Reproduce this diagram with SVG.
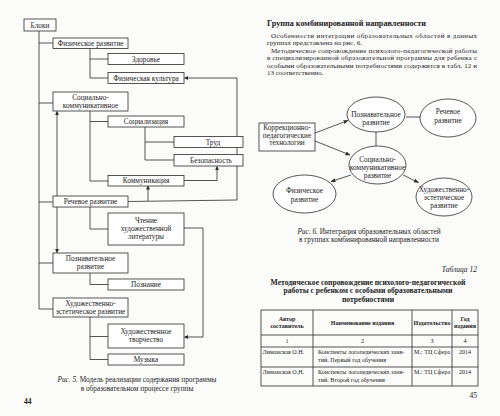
<svg xmlns="http://www.w3.org/2000/svg" width="500" height="416" viewBox="0 0 500 416">
<defs>
<style>
.bx{fill:#fff;stroke:#2b2b2b;stroke-width:0.8}
.ln{fill:none;stroke:#2b2b2b;stroke-width:0.8}
.el{fill:#fff;stroke:#2b2b2b;stroke-width:0.8}
text{font-family:"Liberation Serif","DejaVu Serif",serif;fill:#222}
.t{font-size:7.3px;text-anchor:middle}
.b{font-size:7px}
.tb{font-size:6.1px}
.th{font-size:6px;font-weight:bold;text-anchor:middle}
</style>
<marker id="ah" viewBox="0 0 10 10" refX="9" refY="5" markerWidth="4" markerHeight="4" orient="auto" markerUnits="userSpaceOnUse"><path d="M0,0 L10,5 L0,10 z" fill="#2b2b2b"/></marker>
<marker id="ah2" viewBox="0 0 10 10" refX="9" refY="5" markerWidth="5" markerHeight="5" orient="auto" markerUnits="userSpaceOnUse"><path d="M0,1 L10,5 L0,9 z" fill="#2b2b2b"/></marker>
</defs>
<rect x="0" y="0" width="500" height="416" fill="#fbfbfa"/>

<!-- LEFT PAGE: Fig 5 connectors -->
<g id="connectors5">
<path class="ln" d="M39,31 V309"/>
<path class="ln" d="M39,43 H53 M39,103 H53 M39,202 H53 M39,263 H53 M39,309 H53"/>
<path class="ln" d="M90,48.5 V78 M90,59 H108 M90,78 H108"/>
<path class="ln" d="M90,111 V181 M90,121.5 H108 M90,181 H108"/>
<path class="ln" d="M145,127 V160 M145,142 H174 M145,160 H174"/>
<path class="ln" d="M184,180.5 H217 V166.5" marker-end="url(#ah)"/>
<path class="ln" d="M128,201.5 L237,200 V78 H184.5" marker-end="url(#ah)"/>
<path class="ln" d="M148,201 V186" marker-end="url(#ah)"/>
<path class="ln" d="M57,182 V111.5" marker-end="url(#ah)"/>
<path class="ln" d="M57,182 V252.5" marker-end="url(#ah)"/>
<path class="ln" d="M90,207 V229 H108"/>
<path class="ln" d="M184,228 H203 V337 H184.5" marker-end="url(#ah)"/>
<path class="ln" d="M90,273 V284.5 H108"/>
<path class="ln" d="M90,317 V359.5 H108 M90,336.5 H108"/>
</g>

<g id="n-bloki"><rect class="bx" x="24" y="19" width="32" height="12"/><text class="t" x="40" y="27.6">Блоки</text></g>
<g id="n-fiz"><rect class="bx" x="53" y="38" width="75" height="10.5"/><text class="t" x="90.5" y="45.8">Физическое развитие</text></g>
<g id="n-zdorovie"><rect class="bx" x="108" y="53.5" width="76" height="11"/><text class="t" x="146" y="61.5">Здоровье</text></g>
<g id="n-fizkult"><rect class="bx" x="108" y="72.5" width="76" height="11"/><text class="t" x="146" y="80.5">Физическая культура</text></g>
<g id="n-soc"><rect class="bx" x="53" y="92" width="75" height="19"/><text class="t" x="90.5" y="99.8">Социально-</text><text class="t" x="90.5" y="107.8">коммуникативное</text></g>
<g id="n-socializ"><rect class="bx" x="108" y="116" width="76" height="11"/><text class="t" x="146" y="124">Социализация</text></g>
<g id="n-trud"><rect class="bx" x="174" y="136.5" width="69" height="11"/><text class="t" x="213" y="144.5">Труд</text></g>
<g id="n-bezop"><rect class="bx" x="174" y="154.5" width="69" height="11.5"/><text class="t" x="211" y="162.8">Безопасность</text></g>
<g id="n-komm"><rect class="bx" x="108" y="175.5" width="76" height="10.5"/><text class="t" x="146" y="183.3">Коммуникация</text></g>
<g id="n-rech"><rect class="bx" x="53" y="196" width="75" height="11"/><text class="t" x="90.5" y="204">Речевое развитие</text></g>
<g id="n-chtenie"><rect class="bx" x="108" y="213" width="76" height="32"/><text class="t" x="146" y="222.5">Чтение</text><text class="t" x="146" y="230.5">художественной</text><text class="t" x="146" y="238.5">литературы</text></g>
<g id="n-pozn"><rect class="bx" x="53" y="253" width="75" height="20"/><text class="t" x="90.5" y="261">Познавательное</text><text class="t" x="90.5" y="269">развитие</text></g>
<g id="n-poznanie"><rect class="bx" x="108" y="279" width="76" height="11"/><text class="t" x="146" y="287">Познание</text></g>
<g id="n-hud"><rect class="bx" x="53" y="298" width="75" height="19"/><text class="t" x="90.5" y="305.8">Художественно-</text><text class="t" x="90.5" y="313.8">эстетическое развитие</text></g>
<g id="n-tvorch"><rect class="bx" x="108" y="324" width="76" height="24"/><text class="t" x="146" y="334">Художественное</text><text class="t" x="146" y="342">творчество</text></g>
<g id="n-muz"><rect class="bx" x="108" y="354" width="76" height="11"/><text class="t" x="146" y="362">Музыка</text></g>

<text class="t" x="137" y="382"><tspan font-style="italic">Рис. 5.</tspan> Модель реализации содержания программы</text>
<text class="t" x="137" y="390.5">в образовательном процессе группы</text>
<text x="24" y="404" font-size="7.5" font-weight="bold">44</text>

<!-- RIGHT PAGE -->
<text x="267" y="25.5" font-size="8.2" font-weight="bold">Группа комбинированной направленности</text>
<text class="b" x="271" y="37.5" textLength="206" lengthAdjust="spacing">Особенности интеграции образовательных областей в данных</text>
<text class="b" x="267" y="45">группах представлена на рис. 6.</text>
<text class="b" x="271" y="52.5" textLength="206" lengthAdjust="spacing">Методическое сопровождение психолого-педагогической работы</text>
<text class="b" x="267" y="60" textLength="210" lengthAdjust="spacing">в специализированной образовательной программы для ребенка с</text>
<text class="b" x="267" y="67.5" textLength="210" lengthAdjust="spacing">особыми образовательными потребностями содержится в табл. 12 и</text>
<text class="b" x="267" y="75">13 соответственно.</text>

<g id="connectors6">
<path class="ln" d="M406,117 H420"/>
<path class="ln" d="M376,131.5 V146.5"/>
<path class="ln" d="M315,133 L348,120.5" marker-end="url(#ah2)"/>
<path class="ln" d="M315,141 L350,155" marker-end="url(#ah2)"/>
<path class="ln" d="M351,175 L331,181.5" marker-end="url(#ah2)"/>
<path class="ln" d="M403,175 L418.5,182.5" marker-end="url(#ah2)"/>
</g>
<g id="e-pozn"><ellipse class="el" cx="376" cy="114.5" rx="29" ry="17.5"/><text class="t" x="376" y="117">Познавательное</text><text class="t" x="376" y="125">развитие</text></g>
<g id="e-rech"><ellipse class="el" cx="448" cy="118" rx="28" ry="19"/><text class="t" x="448" y="114">Речевое</text><text class="t" x="448" y="122.5">развитие</text></g>
<g id="n-korr"><rect class="bx" x="259" y="123" width="56" height="28"/><text class="t" x="287" y="130">Коррекционно-</text><text class="t" x="287" y="137.5">педагогические</text><text class="t" x="287" y="145">технологии</text></g>
<g id="e-soc"><ellipse class="el" cx="377.5" cy="165" rx="28.5" ry="19"/><text class="t" x="377.5" y="162">Социально-</text><text class="t" x="377.5" y="170">коммуникативное</text><text class="t" x="377.5" y="178">развитие</text></g>
<g id="e-fiz"><ellipse class="el" cx="304.5" cy="194" rx="31.5" ry="19"/><text class="t" x="304.5" y="192.5">Физическое</text><text class="t" x="304.5" y="201.5">развитие</text></g>
<g id="e-hud"><ellipse class="el" cx="444" cy="197" rx="28" ry="19"/><text class="t" x="444" y="192">Художественно-</text><text class="t" x="444" y="200">эстетическое</text><text class="t" x="444" y="208">развитие</text></g>

<text class="t" x="369" y="234"><tspan font-style="italic">Рис. 6.</tspan> Интеграция образовательных областей</text>
<text class="t" x="369" y="242">в группах комбинированной направленности</text>

<text x="477" y="272" font-size="7.5" font-style="italic" text-anchor="end">Таблица 12</text>
<text x="368" y="285" font-size="7.6" font-weight="bold" text-anchor="middle">Методическое сопровождение психолого-педагогической</text>
<text x="368" y="293" font-size="7.6" font-weight="bold" text-anchor="middle">работы с ребенком с особыми образовательными</text>
<text x="368" y="301.5" font-size="7.6" font-weight="bold" text-anchor="middle">потребностями</text>

<g id="table12">
<rect class="ln" x="261" y="310" width="217" height="76"/>
<path class="ln" d="M313,310 V386 M412,310 V386 M452,310 V386 M261,335 H478 M261,347 H478 M261,367 H478"/>
<text class="th" x="287" y="320.5">Автор</text><text class="th" x="287" y="328">составитель</text>
<text class="th" x="362.5" y="324.5">Наименование издания</text>
<text class="th" x="432" y="324.5">Издательство</text>
<text class="th" x="465" y="320.5">Год</text><text class="th" x="465" y="328">издания</text>
<text class="tb" x="287" y="343" text-anchor="middle">1</text>
<text class="tb" x="362.5" y="343" text-anchor="middle">2</text>
<text class="tb" x="432" y="343" text-anchor="middle">3</text>
<text class="tb" x="465" y="343" text-anchor="middle">4</text>
<text class="tb" x="262.5" y="354">Лиманская О.Н.</text>
<text class="tb" x="318" y="354">Конспекты логопедических заня-</text>
<text class="tb" x="318" y="362">тий. Первый год обучения</text>
<text class="tb" x="414" y="354">М.: ТЦ Сфера</text>
<text class="tb" x="465" y="354" text-anchor="middle">2014</text>
<text class="tb" x="262.5" y="374">Лиманская О.Н.</text>
<text class="tb" x="318" y="374">Конспекты логопедических заня-</text>
<text class="tb" x="318" y="382">тий. Второй год обучения</text>
<text class="tb" x="414" y="374">М.: ТЦ Сфера</text>
<text class="tb" x="465" y="374" text-anchor="middle">2014</text>
</g>
<text x="477" y="398" font-size="7.5" text-anchor="end">45</text>
</svg>
